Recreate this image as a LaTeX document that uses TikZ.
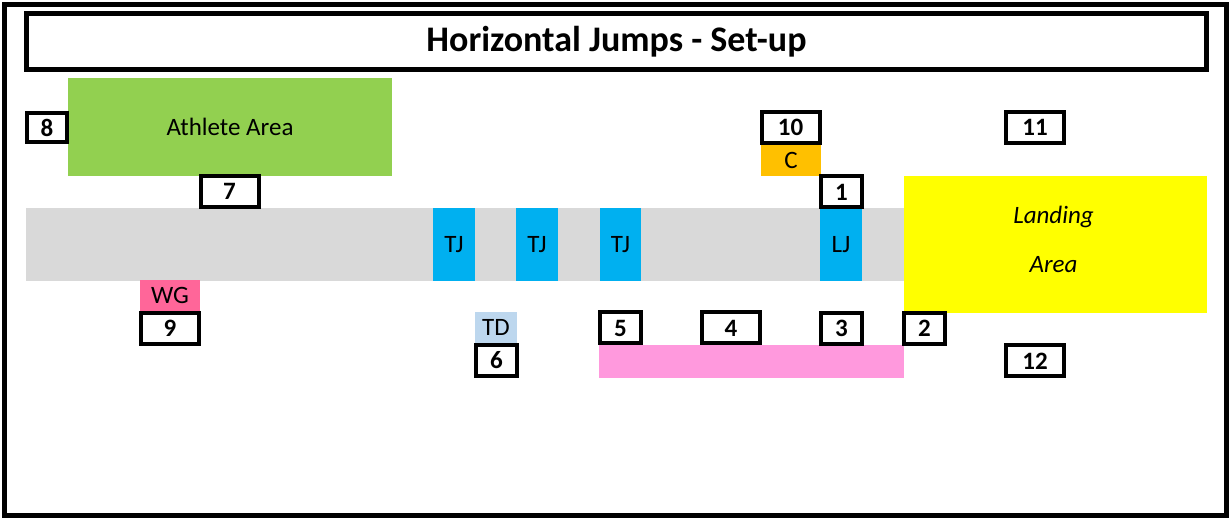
\documentclass[tikz,border=0pt]{standalone}
\usepackage{fontspec}
\setmainfont{Carlito}
\usepackage{tikz}
\usepackage{color}
\usetikzlibrary{shapes}

\definecolor{athletegreen}{HTML}{92D050}
\definecolor{runwaygrey}{HTML}{D9D9D9}
\definecolor{boardblue}{HTML}{00B0F0}
\definecolor{landyellow}{HTML}{FFFF00}
\definecolor{coachorange}{HTML}{FFC000}
\definecolor{wgpink}{HTML}{FF6699}
\definecolor{tdblue}{HTML}{BDD7EE}
\definecolor{matpink}{HTML}{FF99DD}

\begin{document}
\begin{tikzpicture}[x=1pt,y=-1pt,
  lbl/.style={font=\fontsize{25}{25}\selectfont},
  pad/.style={lbl,inner sep=0pt,minimum width=#1},
  numbox/.style={draw,line width=4pt,fill=white,inner sep=0pt,minimum width=41pt,minimum height=31pt,font=\bfseries\fontsize{25}{25}\selectfont},
  wnumbox/.style={numbox,minimum width=58pt}]
  \useasboundingbox (0,0) rectangle (1229,518);
  %\fill[red] (0,0) rectangle (1229,518);
  \draw[line width=5pt] (4.5,4.5) rectangle (1226.5,515.5);
  \node[draw,line width=5pt,minimum width=1180pt,minimum height=56pt,inner sep=0pt,font=\bfseries\fontsize{36}{36}\selectfont] (title) at (616.5,41.5) {Horizontal Jumps - Set-up};

  % areas
  \node[fill=athletegreen,pad=324pt,minimum height=98pt] (athlete) at (230,127) {Athlete Area};
  \node[fill=runwaygrey,inner sep=0pt,minimum width=878pt,minimum height=73pt] (runway) at (465,244.5) {};
  \node[fill=landyellow,inner sep=0pt,minimum width=303pt,minimum height=137pt] (landing) at (1055.5,244.5) {};
  \node[lbl,align=center,font=\itshape\fontsize{25}{49}\selectfont] (landtxt) at (1053.5,239) {Landing\\Area};
  \node[fill=matpink,inner sep=0pt,minimum width=305pt,minimum height=33pt] (mat) at (751.5,361.5) {};

  % boards
  \node[fill=boardblue,pad=42pt,minimum height=73pt] (tj1) at (454,244.5) {TJ};
  \node[fill=boardblue,pad=42pt,minimum height=73pt] (tj2) at (537,244.5) {TJ};
  \node[fill=boardblue,pad=41pt,minimum height=73pt] (tj3) at (620.5,244.5) {TJ};
  \node[fill=boardblue,pad=42pt,minimum height=73pt] (lj) at (841,244.5) {LJ};

  % officials
  \node[fill=coachorange,pad=60pt,minimum height=31pt] (coach) at (791,160.5) {C};
  \node[fill=wgpink,pad=60pt,minimum height=31pt] (wg) at (170,295.5) {WG};
  \node[fill=tdblue,pad=42pt,minimum height=31pt] (td) at (496,327.5) {TD};

  % positions
  \node[numbox] (n1) at (841.5,192) {1};
  \node[numbox] (n2) at (924.5,328.5) {2};
  \node[numbox] (n3) at (841.5,328.5) {3};
  \node[wnumbox] (n4) at (731,328) {4};
  \node[numbox] (n5) at (620.5,328) {5};
  \node[numbox] (n6) at (496.5,360.5) {6};
  \node[wnumbox] (n7) at (229.5,191.5) {7};
  \node[numbox,minimum width=40pt,minimum height=29pt] (n8) at (47,127.5) {8};
  \node[wnumbox] (n9) at (170,328.5) {9};
  \node[wnumbox] (n10) at (790.5,127.5) {10};
  \node[wnumbox] (n11) at (1035,127.5) {11};
  \node[wnumbox] (n12) at (1035,361) {12};
\end{tikzpicture}
\end{document}
